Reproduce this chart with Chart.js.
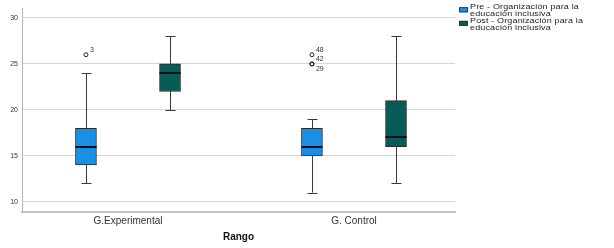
<!DOCTYPE html>
<html lang="es">
<head>
<meta charset="UTF-8">
<script src="https://cdn.jsdelivr.net/npm/chart.js@4.4.0/dist/chart.umd.min.js"></script>
<title>Rango - Organización para la educación inclusiva</title>
<style>
  body { margin: 0; background: #fff; }
  #wrap { position: relative; width: 614px; height: 248px; }
  #legend { position: absolute; left: 459px; top: 3px; font-family: "Liberation Sans", Arial, sans-serif; font-size: 9px; line-height: 8.2px; letter-spacing: 0.15px; color: #222; transform: scaleY(0.85); transform-origin: 0 0; }
  .item { position: relative; padding-left: 11px; }
  .sw { position: absolute; left: 0; top: 5px; width: 9px; height: 6px; border: 1px solid #333; box-sizing: border-box; }
</style>
</head>
<body>
<div id="wrap">
  <canvas id="myChart" width="614" height="248"></canvas>
  <div id="legend"></div>
</div>
<script>
// data
const categories = ['G.Experimental', 'G. Control'];
const seriesNames = ['Pre - Organización para la educación inclusiva', 'Post - Organización para la educación inclusiva'];
const preMin = [12, 11];
const preQ1 = [14, 15];
const preMedian = [16, 16];
const preQ3 = [18, 18];
const preMax = [24, 19];
const postMin = [20, 12];
const postQ1 = [22, 16];
const postMedian = [24, 17];
const postQ3 = [25, 21];
const postMax = [28, 28];
// outliers of the Pre series: [category index, value, case label]
const preOutliers = [[0, 26, '3'], [1, 26, '48'], [1, 25, '42'], [1, 25, '29']];
const yTicks = [10, 15, 20, 25, 30];

const colors = ['#1a8fe6', '#075c58'];
const offset = 0.186;   // box shift from category centre, in x units

function boxData(q1, q3, shift) {
    return q1.map((v, i) => ({ x: i + 1 + shift, y: [v, q3[i]] }));
}

const stats = [
    { min: preMin, med: preMedian, max: preMax, shift: -offset },
    { min: postMin, med: postMedian, max: postMax, shift: offset }
];

const boxPlugin = {
    id: 'boxParts',
    beforeDatasetsDraw(chart) {
        const ctx = chart.ctx, xs = chart.scales.x, ys = chart.scales.y;
        ctx.save();
        ctx.strokeStyle = '#3a3a3a';
        ctx.lineWidth = 1;
        stats.forEach(s => {
            s.min.forEach((lo, i) => {
                const px = Math.round(xs.getPixelForValue(i + 1 + s.shift)) + 0.5;
                const yLo = ys.getPixelForValue(lo), yHi = ys.getPixelForValue(s.max[i]);
                ctx.beginPath();
                ctx.moveTo(px, yLo); ctx.lineTo(px, yHi);
                ctx.moveTo(px - 5, Math.round(yLo) + 0.5); ctx.lineTo(px + 5, Math.round(yLo) + 0.5);
                ctx.moveTo(px - 5, Math.round(yHi) + 0.5); ctx.lineTo(px + 5, Math.round(yHi) + 0.5);
                ctx.stroke();
            });
        });
        ctx.restore();
    },
    afterDatasetsDraw(chart) {
        const ctx = chart.ctx, xs = chart.scales.x, ys = chart.scales.y;
        ctx.save();
        ctx.strokeStyle = '#111';
        ctx.lineWidth = 2;
        stats.forEach(s => {
            s.med.forEach((m, i) => {
                const px = xs.getPixelForValue(i + 1 + s.shift);
                const py = Math.round(ys.getPixelForValue(m));
                ctx.beginPath();
                ctx.moveTo(px - 10.5, py); ctx.lineTo(px + 10.5, py);
                ctx.stroke();
            });
        });
        // outliers
        ctx.lineWidth = 1;
        ctx.strokeStyle = '#222';
        ctx.fillStyle = '#333';
        ctx.font = '7px "Liberation Sans", Arial, sans-serif';
        ctx.textBaseline = 'middle';
        const seen = {};
        preOutliers.forEach(o => {
            const px = xs.getPixelForValue(o[0] + 1 - offset);
            const py = ys.getPixelForValue(o[1]);
            const key = o[0] + ':' + o[1];
            const n = seen[key] || 0;
            seen[key] = n + 1;
            ctx.beginPath();
            ctx.arc(px, py, 2, 0, Math.PI * 2);
            ctx.stroke();
            ctx.fillText(o[2], px + 4, n === 0 ? py - 5 : py + 5);
        });
        ctx.restore();
    }
};

const ctx = document.getElementById('myChart').getContext('2d');
const myChart = new Chart(ctx, {
    type: 'bar',
    data: {
        datasets: [{
            label: seriesNames[0],
            data: boxData(preQ1, preQ3, -offset),
            backgroundColor: colors[0],
            borderColor: '#2b2b2b',
            borderWidth: 1,
            borderSkipped: false,
            barThickness: 21,
            grouped: false
        }, {
            label: seriesNames[1],
            data: boxData(postQ1, postQ3, offset),
            backgroundColor: colors[1],
            borderColor: '#2b2b2b',
            borderWidth: 1,
            borderSkipped: false,
            barThickness: 21,
            grouped: false
        }]
    },
    options: {
        responsive: false,
        animation: false,
        devicePixelRatio: 1,
        layout: { padding: { left: 0, right: 159, top: 3, bottom: 0 } },
        plugins: { legend: { display: false }, tooltip: { enabled: false } },
        scales: {
            x: {
                type: 'linear',
                offset: false,
                min: 0.531,
                max: 2.447,
                afterBuildTicks: scale => { scale.ticks = [{ value: 1 }, { value: 2 }]; },
                afterFit: scale => { scale.height = 36; },
                ticks: {
                    callback: v => categories[v - 1],
                    color: '#333',
                    padding: 3,
                    font: { family: '"Liberation Sans", Arial, sans-serif', size: 10 }
                },
                grid: { display: false, drawTicks: false },
                border: { display: true, color: '#c4c4c4', width: 2 },
                title: {
                    display: true,
                    text: 'Rango',
                    color: '#111',
                    padding: { top: 0, bottom: 5 },
                    font: { family: '"Liberation Sans", Arial, sans-serif', size: 10, weight: 'bold' }
                }
            },
            y: {
                min: 8.89,
                max: 31.06,
                afterBuildTicks: scale => { scale.ticks = yTicks.map(v => ({ value: v })); },
                afterFit: scale => { scale.width = 22; },
                ticks: {
                    color: '#333',
                    padding: 4,
                    font: { family: '"Liberation Sans", Arial, sans-serif', size: 7 }
                },
                grid: { color: '#d6d6d6', drawTicks: false },
                border: { display: true, color: '#b5b5b5', width: 1 }
            }
        }
    },
    plugins: [boxPlugin]
});

// legend with the long names on two lines, as in the picture
const legend = document.getElementById('legend');
seriesNames.forEach((name, i) => {
    const parts = name.split(' para la ');
    const div = document.createElement('div');
    div.className = 'item';
    div.innerHTML = '<span class="sw" style="background:' + colors[i] + '"></span>' +
        parts[0] + ' para la<br>' + parts[1];
    legend.appendChild(div);
});
</script>
</body>
</html>
